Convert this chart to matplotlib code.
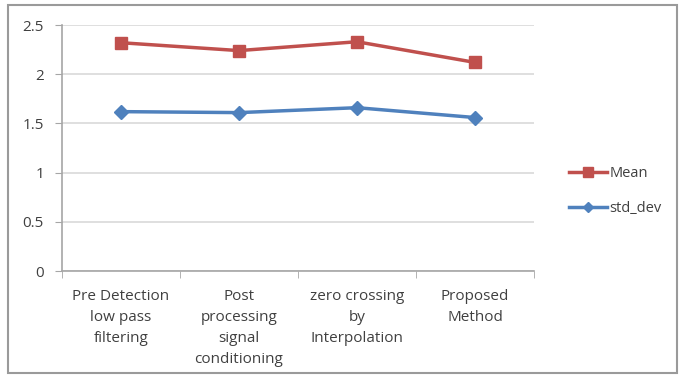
import matplotlib
matplotlib.use('Agg')
import matplotlib.pyplot as plt
from matplotlib.patches import Rectangle
import numpy as np

plt.rcParams['font.family'] = ['Open Sans', 'DejaVu Sans']

# ─── Data ───
methods = ["Pre Detection\nlow pass\nfiltering",
           "Post\nprocessing\nsignal\nconditioning",
           "zero crossing\nby\nInterpolation",
           "Proposed\nMethod"]
mean_vals = [2.32, 2.24, 2.33, 2.12]
std_vals = [1.62, 1.61, 1.66, 1.56]
yticks = [0, 0.5, 1, 1.5, 2, 2.5]

TEXT = "#404040"
GRID = "#d9d9d9"
AXIS = "#a6a6a6"

fig = plt.figure(figsize=(6.8, 3.76), dpi=100)
ax = fig.add_axes([0.0912, 0.279, 0.694, 0.6545])

x = np.arange(len(methods))
ax.plot(x, mean_vals, color="#C0504D", lw=2.5, marker="s", ms=9,
        label="Mean", zorder=3)
ax.plot(x, std_vals, color="#4F81BD", lw=2.5, marker="D", ms=7,
        label="std_dev", zorder=3)

ax.set_xlim(-0.5, len(methods) - 0.5)
ax.set_ylim(0, 2.5)
ax.set_yticks(yticks)
ax.set_yticklabels([f"{v:g}" for v in yticks], fontsize=11, color=TEXT)
ax.grid(axis="y", color=GRID, lw=1.2)
ax.set_axisbelow(True)

# category labels centred, tick marks on the boundaries
ax.set_xticks(x)
ax.set_xticklabels(methods, fontsize=11, color=TEXT, linespacing=1.55)
ax.tick_params(axis="x", length=0, pad=13)
ax.set_xticks(np.arange(-0.5, len(methods)), minor=True)
ax.tick_params(axis="x", which="minor", length=5, color=AXIS, direction="out")
ax.tick_params(axis="y", length=5, color=AXIS, pad=8)

for side in ["top", "right"]:
    ax.spines[side].set_visible(False)
for side in ["left", "bottom"]:
    ax.spines[side].set_color(AXIS)
    ax.spines[side].set_linewidth(1.2)

fig.legend(loc="center left", bbox_to_anchor=(0.818, 0.492), frameon=False,
           fontsize=10.5, handlelength=2.6, labelspacing=1.4, handletextpad=0.15,
           markerscale=0.8, labelcolor=TEXT)

# outer chart frame
fig.patches.append(Rectangle((8 / 680, 3 / 376), 669 / 680, 368 / 376,
                             transform=fig.transFigure, fill=False,
                             edgecolor="#9a9a9a", lw=1.5))

fig.savefig("out.png", dpi=100)
